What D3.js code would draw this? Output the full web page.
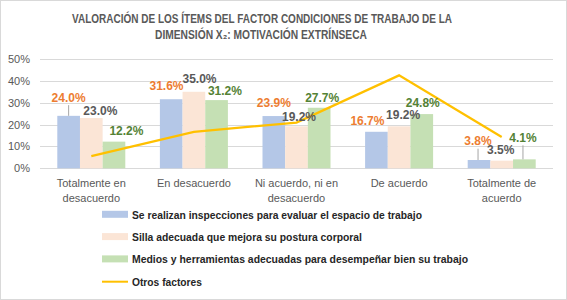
<!DOCTYPE html>
<html><head><meta charset="utf-8">
<script src="https://cdn.jsdelivr.net/npm/d3@7"></script>
<style>body{margin:0;background:#fff}svg{display:block}text{font-family:"Liberation Sans",Arial,"DejaVu Sans",sans-serif}</style>
</head><body><svg id="c" width="567" height="300"></svg>
<script>
const categories = [["Totalmente en","desacuerdo"],["En desacuerdo"],["Ni acuerdo, ni en","desacuerdo"],["De acuerdo"],["Totalmente de","acuerdo"]];
const catKeys = ["TED","ED","NA","DA","TDA"];
const seriesNames = ["Se realizan inspecciones para evaluar el espacio de trabajo","Silla adecuada que mejora su postura corporal","Medios y herramientas adecuadas para desempeñar bien su trabajo"];
const inspecciones = [24.0,31.6,23.9,16.7,3.8];
const silla = [23.0,35.0,19.2,19.2,3.5];
const medios = [12.2,31.2,27.7,24.8,4.1];
const otros = [5.6,16.7,20.9,42.5,14.3];
const lineName = "Otros factores";
const yTicks = [0,10,20,30,40,50];
const titleLines = ["VALORACIÓN DE LOS ÍTEMS DEL FACTOR CONDICIONES DE TRABAJO DE LA","DIMENSIÓN  X₂: MOTIVACIÓN  EXTRÍNSECA"];

const barColors = ["#B4C7E7","#FBE5D6","#C5E0B4"];
const labelColors = ["#ED7D31","#595959","#548235"];
const lineColor = "#FFC000";
// label offsets (dx, dy from bar top) per series per category
const labelOffsets = [
  [[0,-18.7],[-4.7,-13.7],[0,-13.5],[-9,-11.2],[-1,-19.3]],
  [[9,-7.2],[5.6,-13],[2.5,-9.7],[4,-11.4],[-1,-10.7]],
  [[12.5,-10.7],[8.4,-9.6],[3,-10.6],[1,-11.6],[-1.4,-22]]
];
const leaders = [[0,0],[0,4],[2,4]]; // [series, category]

const svg = d3.select("#c");
svg.append("rect").attr("x",0.5).attr("y",0.5).attr("width",566).attr("height",299).attr("fill","#fff").attr("stroke","#D9D9D9");

// title
const titleW = [380,212], titleX = [262,261], titleY = [23,39];
titleLines.forEach((s,i)=>{
  svg.append("text").attr("x",titleX[i]).attr("y",titleY[i]).attr("text-anchor","middle").attr("fill","#595959")
    .attr("font-weight","bold").attr("font-size",12).attr("textLength",titleW[i]).attr("lengthAdjust","spacingAndGlyphs").text(s);
});

const x = d3.scaleBand().domain(catKeys).range([40,553]);
const y = d3.scaleLinear().domain([0,50]).range([168.3,59]);
const groupW = 68;
const xs = d3.scaleBand().domain([0,1,2]).range([0,groupW]);

// grid
svg.append("g").selectAll("line").data(yTicks).join("line")
  .attr("x1",40).attr("x2",553).attr("y1",d=>Math.round(y(d))+0.5).attr("y2",d=>Math.round(y(d))+0.5)
  .attr("stroke","#D9D9D9").attr("stroke-width",1);
svg.append("g").selectAll("text").data(yTicks).join("text")
  .attr("x",30).attr("y",d=>y(d)+4).attr("text-anchor","end").attr("font-size",11).attr("fill","#595959").text(d=>d+"%");

const series = [inspecciones, silla, medios];
const gx = k => x(k) + (x.bandwidth()-groupW)/2;
series.forEach((vals,si)=>{
  svg.append("g").selectAll("rect").data(vals).join("rect")
    .attr("x",(d,i)=>gx(catKeys[i])+xs(si)).attr("width",xs.bandwidth())
    .attr("y",d=>y(d)).attr("height",d=>y(0)-y(d)).attr("fill",barColors[si]);
});

// line
const line = d3.line().x((d,i)=>x(catKeys[i])+x.bandwidth()/2).y(d=>y(d));
svg.append("path").datum(otros).attr("d",line).attr("fill","none").attr("stroke",lineColor).attr("stroke-width",2.25);

// leader lines
leaders.forEach(([si,ci])=>{
  const cx = gx(catKeys[ci])+xs(si)+xs.bandwidth()/2 + labelOffsets[si][ci][0];
  const top = y(series[si][ci]);
  svg.append("line").attr("x1",cx).attr("x2",cx).attr("y1",top+labelOffsets[si][ci][1]+8).attr("y2",top)
    .attr("stroke","#A6A6A6").attr("stroke-width",1);
});

// data labels
series.forEach((vals,si)=>{
  svg.append("g").selectAll("text").data(vals).join("text")
    .attr("x",(d,i)=>gx(catKeys[i])+xs(si)+xs.bandwidth()/2+labelOffsets[si][i][0])
    .attr("y",(d,i)=>y(d)+labelOffsets[si][i][1]+4.5)
    .attr("text-anchor","middle").attr("font-size",12).attr("font-weight","bold").attr("fill",labelColors[si])
    .text(d=>d.toFixed(1)+"%");
});

// category labels
categories.forEach((lines,i)=>{
  const tx = svg.append("text").attr("text-anchor","middle").attr("font-size",11).attr("fill","#595959");
  lines.forEach((l,j)=>tx.append("tspan").attr("x",x(catKeys[i])+x.bandwidth()/2).attr("y",187+j*15).text(l));
});

// legend
const legendItems = seriesNames.map((n,i)=>({name:n,type:"bar",color:barColors[i]})).concat([{name:lineName,type:"line",color:lineColor}]);
const legendW = [290,230,336,70];
const lg = svg.append("g").selectAll("g").data(legendItems).join("g").attr("transform",(d,i)=>`translate(102,${214.3+i*22.3})`);
lg.each(function(d){
  const g = d3.select(this);
  if(d.type==="bar") g.append("rect").attr("x",0).attr("y",-3.5).attr("width",26).attr("height",7).attr("fill",d.color);
  else g.append("line").attr("x1",0).attr("x2",26).attr("y1",0.5).attr("y2",0.5).attr("stroke",d.color).attr("stroke-width",2);
});
lg.append("text").attr("x",30).attr("y",4.5).attr("font-size",11).attr("font-weight","bold").attr("fill","#262626")
  .attr("textLength",(d,i)=>legendW[i]).attr("lengthAdjust","spacingAndGlyphs").text(d=>d.name);
</script></body></html>
